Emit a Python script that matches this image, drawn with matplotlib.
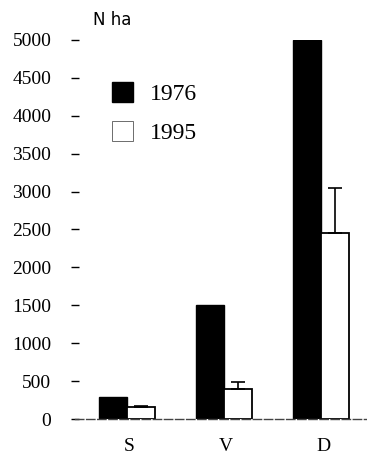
import numpy as np
import matplotlib
matplotlib.use('Agg')
import matplotlib.pyplot as plt
from matplotlib.patches import Patch

# data
categories = ['S', 'V', 'D']
area_1976 = [290, 1500, 5000]
area_1995 = [158, 396, 2450]
err_1995 = [17, 94, 600]
yticks = [0, 500, 1000, 1500, 2000, 2500, 3000, 3500, 4000, 4500, 5000]

plt.rcParams['font.family'] = ['Liberation Serif', 'DejaVu Serif']

fig = plt.figure(figsize=(3.67, 4.55), dpi=100)
ax = fig.add_axes([75 / 367, 36 / 455, 292 / 367, 379 / 455])

x = np.arange(len(categories))
w = 0.29
ax.bar(x - w / 2, area_1976, w, color='black', edgecolor='black', linewidth=1)
ax.bar(x + w / 2, area_1995, w, color='white', edgecolor='black', linewidth=1.3,
       yerr=[np.zeros(len(err_1995)), err_1995], capsize=5,
       error_kw=dict(elinewidth=1.2, capthick=1.2, ecolor='black'))

ax.set_xlim(-0.536, 2.474)
ax.set_ylim(0, 5000)
ax.set_yticks(yticks)
ax.set_yticklabels([str(t) for t in yticks], fontsize=14)
ax.set_xticks(x + 0.02)
ax.set_xticklabels(categories, fontsize=14)
ax.tick_params(axis='y', length=6, width=1, pad=14, direction='inout')
ax.tick_params(axis='x', length=0, pad=14)

for s in ['top', 'right', 'left']:
    ax.spines[s].set_visible(False)
ax.spines['bottom'].set_color('#444444')
ax.spines['bottom'].set_linestyle((0, (6, 2)))
ax.spines['bottom'].set_linewidth(1)

ax.text(0.06, 1.03, 'N ha', transform=ax.transAxes, fontsize=12, ha='left', va='bottom',
        family=['DejaVu Sans'])

handles = [Patch(facecolor='black', edgecolor='black', label='1976'),
           Patch(facecolor='white', edgecolor='#555555', linewidth=0.6, label='1995')]
ax.legend(handles=handles, loc='upper left', bbox_to_anchor=(112 / 367, 1 - 82 / 455),
          bbox_transform=fig.transFigure, frameon=False, borderaxespad=0, borderpad=0,
          fontsize=17, handlelength=0.9, handleheight=0.9, handletextpad=0.7,
          labelspacing=0.7)

fig.savefig('out.png', dpi=100)
